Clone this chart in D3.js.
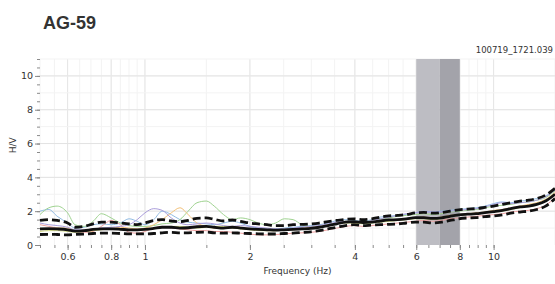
<!DOCTYPE html>
<head>
    <meta charset="utf-8">
    <title>AG-59 H/V</title>
    <script type="text/javascript" src="https://d3js.org/d3.v7.min.js"></script>
    <style>
        body { margin: 0; background: #fff; }
        svg text { font-family: "DejaVu Sans", Verdana, sans-serif; fill: #333; }
    </style>
</head>
<body>
<div id="container"></div>

<script>
    //-----------------------------DATA-----------------------------//
    const freqs = [0.5,0.53,0.56,0.6,0.63,0.67,0.71,0.75,0.8,0.85,0.9,0.95,1.0,1.06,1.12,1.19,1.26,1.33,1.41,1.5,
        1.58,1.68,1.78,1.88,2.0,2.11,2.24,2.37,2.51,2.66,2.82,2.99,3.16,3.35,3.55,3.76,3.98,4.22,4.47,4.73,
        5.01,5.31,5.62,5.96,6.31,6.68,7.08,7.5,7.94,8.41,8.91,9.44,10,10.6,11.2,11.9,12.6,13.3,14.1,15];

    const meanHV = [0.95,0.97,0.95,0.9,0.82,0.85,0.92,0.95,0.95,0.93,0.9,0.9,0.92,0.98,1.05,1.05,1.0,1.02,1.08,1.1,
        1.05,1.0,1.05,1.0,0.95,0.92,0.9,0.88,0.9,0.92,0.95,0.98,1.05,1.15,1.25,1.35,1.38,1.33,1.35,1.42,
        1.48,1.5,1.55,1.62,1.62,1.57,1.6,1.7,1.78,1.82,1.85,1.92,1.98,2.05,2.15,2.25,2.3,2.4,2.6,3.0];

    const upperHV = [1.45,1.5,1.45,1.3,1.05,1.1,1.25,1.35,1.35,1.3,1.25,1.2,1.3,1.45,1.5,1.42,1.38,1.45,1.58,1.6,
        1.52,1.42,1.48,1.4,1.3,1.25,1.2,1.15,1.15,1.2,1.22,1.25,1.3,1.38,1.45,1.52,1.55,1.5,1.55,1.65,
        1.72,1.75,1.8,1.9,1.93,1.88,1.92,2.0,2.08,2.12,2.15,2.22,2.3,2.4,2.5,2.6,2.65,2.75,2.95,3.35];

    const lowerHV = [0.62,0.63,0.62,0.6,0.62,0.65,0.68,0.7,0.7,0.68,0.66,0.66,0.66,0.68,0.72,0.75,0.72,0.72,0.75,0.76,
        0.72,0.7,0.72,0.7,0.68,0.66,0.65,0.65,0.68,0.7,0.74,0.78,0.85,0.95,1.05,1.15,1.2,1.15,1.18,1.2,
        1.22,1.25,1.3,1.35,1.35,1.3,1.35,1.45,1.55,1.6,1.62,1.68,1.72,1.78,1.88,1.95,2.0,2.1,2.3,2.75];

    const windowA = [2.0,2.1,1.7,1.3,1.0,1.05,1.2,1.25,1.2,1.3,1.55,1.4,1.2,1.5,2.0,1.8,1.5,1.35,1.3,1.25,
        1.2,1.3,1.4,1.3,1.1,1.0,0.95,0.95,1.0,1.05,1.1,1.15,1.2,1.3,1.45,1.5,1.45,1.4,1.5,1.65,
        1.7,1.75,1.8,1.9,2.0,1.95,2.0,2.05,2.1,2.15,2.2,2.3,2.45,2.55,2.5,2.6,2.65,2.75,2.9,3.3];
    const windowB = [1.8,2.2,2.3,1.9,1.2,1.1,1.4,1.85,1.6,1.3,1.15,1.1,1.1,1.15,1.25,1.3,1.5,2.0,2.5,2.6,
        2.3,1.8,1.5,1.6,1.5,1.3,1.2,1.3,1.55,1.5,1.2,1.1,1.1,1.2,1.3,1.4,1.4,1.35,1.45,1.55,
        1.6,1.7,1.75,1.8,1.85,1.8,1.85,1.95,2.0,2.05,2.1,2.2,2.3,2.35,2.4,2.5,2.55,2.65,2.8,3.2];
    const windowC = [1.2,1.1,1.0,0.9,0.8,0.75,0.8,1.1,1.45,1.2,0.75,0.7,0.8,1.0,1.1,1.0,0.95,0.9,0.85,0.85,
        0.8,0.8,0.75,0.7,0.65,0.6,0.6,0.62,0.65,0.7,0.72,0.75,0.8,0.9,1.0,1.1,1.15,1.1,1.15,1.2,
        1.25,1.3,1.35,1.4,1.45,1.4,1.45,1.55,1.6,1.65,1.7,1.75,1.8,1.85,1.95,2.0,2.05,2.15,2.35,2.8];
    const windowD = [0.9,0.95,1.0,1.0,0.85,0.8,0.85,0.95,1.0,1.05,1.0,0.95,1.0,1.2,1.5,1.9,2.2,1.8,1.3,1.1,
        1.0,1.0,1.1,1.05,0.95,0.9,0.85,0.85,0.9,0.95,1.0,1.05,1.1,1.2,1.3,1.35,1.3,1.3,1.35,1.45,
        1.5,1.5,1.55,1.6,1.65,1.6,1.65,1.75,1.8,1.85,1.9,1.95,2.05,2.1,2.2,2.3,2.4,2.5,2.7,3.1];
    const windowE = [1.3,1.2,1.15,1.05,0.9,0.9,0.95,1.0,1.05,1.1,1.2,1.5,1.9,2.15,2.05,1.6,1.3,1.2,1.25,1.3,
        1.25,1.15,1.1,1.15,1.1,1.05,1.0,0.95,0.95,1.0,1.05,1.1,1.15,1.25,1.35,1.4,1.4,1.35,1.45,1.55,
        1.65,1.75,1.85,1.9,1.95,1.95,1.95,2.0,2.05,2.1,2.15,2.25,2.4,2.5,2.45,2.5,2.55,2.65,2.85,3.25];
    const windowF = [0.8,0.85,0.85,0.8,0.75,0.8,0.85,0.9,0.95,0.95,0.9,0.9,0.95,1.0,1.05,1.1,1.1,1.05,1.0,1.05,
        1.1,1.1,1.0,0.95,0.9,0.85,0.85,0.85,0.9,0.9,0.95,1.0,1.05,1.15,1.25,1.3,1.3,1.25,1.3,1.35,
        1.4,1.45,1.5,1.55,1.55,1.5,1.55,1.65,1.75,1.8,1.85,1.9,1.95,2.0,2.1,2.2,2.3,2.4,2.6,3.0];

    const windows = [windowA, windowB, windowC, windowD, windowE, windowF];
    const windowColors = ["#92bce4", "#9fd390", "#efa0a0", "#f3c27a", "#ab9edb", "#d3dc84"];

    // peak frequency bands (light then dark)
    const bands = [[6, 7], [7, 8]];
    const bandColors = ["#bdbdc3", "#a3a3aa"];

    const xLabels = [0.6, 0.8, 1, 2, 4, 6, 8, 10];
    const xMinor = d3.range(0.5, 1.001, 0.05).concat(d3.range(1.5, 10.001, 0.5), [15]);
    const yLabels = [0, 2, 4, 6, 8, 10];

    //-----------------------------SVG------------------------------//
    const W = 555, H = 284;
    const mLeft = 40, mRight = 555, mTop = 59, mBottom = 245;

    const svg = d3.select("#container").append("svg")
        .attr("width", W)
        .attr("height", H);

    const x = d3.scaleLog().domain([0.5, 15]).range([mLeft, mRight]);
    const y = d3.scaleLinear().domain([0, 11]).range([mBottom, mTop]);

    //-----------------------------GRID-----------------------------//
    const grid = svg.append("g");
    grid.selectAll(".vmin").data(xMinor).enter().append("line")
        .attr("x1", d => x(d)).attr("x2", d => x(d))
        .attr("y1", mTop).attr("y2", mBottom)
        .attr("stroke", "#f3f3f3");
    grid.selectAll(".vmaj").data(xLabels).enter().append("line")
        .attr("x1", d => x(d)).attr("x2", d => x(d))
        .attr("y1", mTop).attr("y2", mBottom)
        .attr("stroke", "#e6e6e6");
    grid.selectAll(".hmin").data(d3.range(1, 11.01, 1)).enter().append("line")
        .attr("x1", mLeft).attr("x2", mRight)
        .attr("y1", d => y(d)).attr("y2", d => y(d))
        .attr("stroke", "#f3f3f3");
    grid.selectAll(".hmaj").data(yLabels.slice(1)).enter().append("line")
        .attr("x1", mLeft).attr("x2", mRight)
        .attr("y1", d => y(d)).attr("y2", d => y(d))
        .attr("stroke", "#e3e3e3");

    //-----------------------------BANDS----------------------------//
    svg.selectAll(".band").data(bands).enter().append("rect")
        .attr("x", d => x(d[0]))
        .attr("width", d => x(d[1]) - x(d[0]))
        .attr("y", mTop)
        .attr("height", mBottom - mTop)
        .attr("fill", (d, i) => bandColors[i]);

    //-----------------------------AXES-----------------------------//
    const xAxis = d3.axisBottom(x).tickValues(xLabels).tickFormat(d3.format("")).tickSize(5).tickPadding(3);
    const xAxisMinor = d3.axisBottom(x).tickValues(xMinor).tickFormat("").tickSize(3);
    const yAxis = d3.axisLeft(y).tickValues(yLabels).tickSize(5).tickPadding(2);
    const yAxisMinor = d3.axisLeft(y).tickValues(d3.range(0, 11.01, 0.5)).tickFormat("").tickSize(3);

    [xAxisMinor, xAxis].forEach(a => {
        const g = svg.append("g").attr("transform", "translate(0," + mBottom + ")").call(a);
        g.select(".domain").remove();
        g.selectAll("line").attr("stroke", "#8a8a8a");
        g.selectAll("text").style("font-size", "9.5px").attr("fill", "#333");
    });
    [yAxisMinor, yAxis].forEach(a => {
        const g = svg.append("g").attr("transform", "translate(" + mLeft + ",0)").call(a);
        g.select(".domain").remove();
        g.selectAll("line").attr("stroke", "#8a8a8a");
        g.selectAll("text").style("font-size", "9.5px").attr("fill", "#333");
    });

    //----------------------------LINES-----------------------------//
    const line = d3.line()
        .x((d, i) => x(freqs[i]))
        .y(d => y(d))
        .curve(d3.curveMonotoneX);

    svg.selectAll(".win").data(windows).enter().append("path")
        .attr("d", line)
        .attr("fill", "none")
        .attr("stroke", (d, i) => windowColors[i])
        .attr("stroke-width", 1);

    [upperHV, lowerHV].forEach(s => {
        svg.append("path").attr("d", line(s))
            .attr("fill", "none")
            .attr("stroke", "#111")
            .attr("stroke-width", 2.8)
            .attr("stroke-dasharray", "8,4");
    });

    svg.append("path").attr("d", line(meanHV))
        .attr("fill", "none")
        .attr("stroke", "#111")
        .attr("stroke-width", 2.8);

    //----------------------------TEXT------------------------------//
    svg.append("text").attr("x", 43).attr("y", 29)
        .text("AG-59")
        .style("font-family", "'Liberation Sans', Arial, sans-serif")
        .style("font-weight", "bold")
        .style("font-size", "18px")
        .attr("fill", "#1a1a1a");

    svg.append("text").attr("x", 553).attr("y", 53)
        .attr("text-anchor", "end")
        .text("100719_1721.039")
        .style("font-size", "8.5px");

    svg.append("text").attr("x", (mLeft + mRight) / 2).attr("y", 274)
        .attr("text-anchor", "middle")
        .text("Frequency (Hz)")
        .style("font-size", "9px");

    svg.append("text")
        .attr("transform", "translate(16," + y(5.9) + ") rotate(-90)")
        .attr("text-anchor", "middle")
        .text("H/V")
        .style("font-size", "9px");
</script>
</body>
